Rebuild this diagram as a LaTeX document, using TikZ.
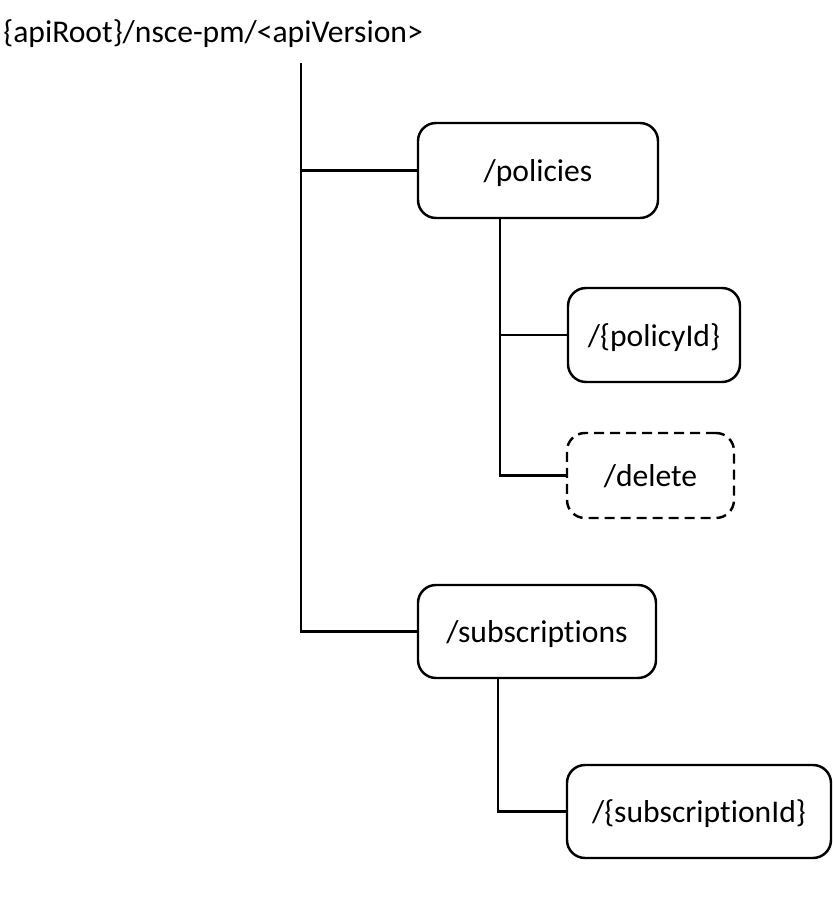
\documentclass[tikz,border=0pt]{standalone}
\usepackage{fontspec}
\setmainfont{Carlito}[Ligatures={NoCommon}]
\tikzset{
  resbox/.style={draw=black, line width=1.4pt, rounded corners=0.36cm, fill=white,
    inner sep=0pt, text depth=0pt, font=\fontsize{18}{21}\selectfont},
  optbox/.style={resbox, dash pattern=on 0.2cm off 0.12cm},
  link/.style={line width=1.4pt, draw=black},
}

\begin{document}
\begin{tikzpicture}
\useasboundingbox (0,0) rectangle (16.66,18.44);
\node[anchor=west, inner sep=0pt, font=\fontsize{18}{21}\selectfont] (root) at (0.06,17.76) {\{apiRoot\}/nsce-pm/<apiVersion>};
\coordinate (trunk) at (6.02,17.18);
\node[resbox, minimum width=4.8cm, minimum height=1.9cm] (policies) at (10.76,15.03) {/policies};
\node[resbox, minimum width=3.44cm, minimum height=1.88cm] (policy) at (13.08,11.74) {/\{policyId\}};
\node[optbox, minimum width=3.34cm, minimum height=1.70cm] (delete) at (13.01,8.93) {/delete};
\node[resbox, minimum width=4.76cm, minimum height=1.86cm] (subs) at (10.74,5.81) {/subscriptions};
\node[resbox, minimum width=5.28cm, minimum height=1.86cm] (sub) at (13.98,2.21) {/\{subscriptionId\}};
\coordinate (pbranch) at (10.0,15.06);
\coordinate (sbranch) at (9.96,5.81);
\draw[link] (trunk) |- (subs.west);
\draw[link] (trunk |- policies.west) -- (policies.west);
\draw[link] (pbranch |- policies.south) |- (delete.west);
\draw[link] (pbranch |- policy.west) -- (policy.west);
\draw[link] (sbranch |- subs.south) |- (sub.west);
\end{tikzpicture}
\end{document}
